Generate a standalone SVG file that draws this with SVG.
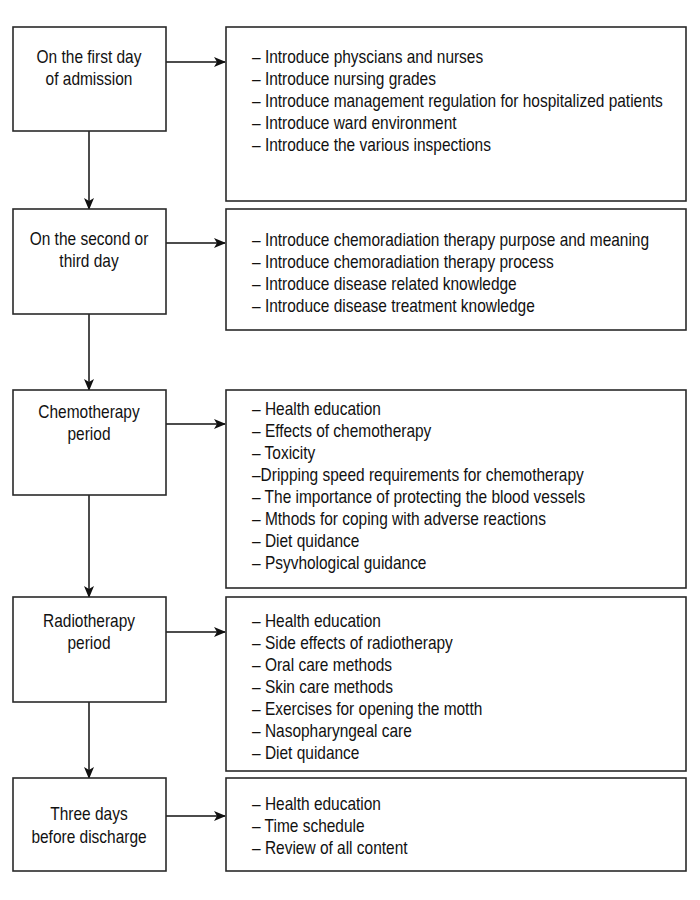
<svg xmlns="http://www.w3.org/2000/svg" width="700" height="900" viewBox="0 0 700 900">
<defs>
<marker id="ah" markerWidth="12" markerHeight="10" refX="11" refY="5" orient="auto" markerUnits="userSpaceOnUse">
<path d="M0,0 L12,5 L0,10 L3,5 Z" fill="#111"/>
</marker>
<style>
.box{fill:#fff;stroke:#2a2a2a;stroke-width:1.6}
.t{font-family:"Liberation Sans",Arial,sans-serif;font-size:18px;fill:#111}
.c{text-anchor:middle}
.con{stroke:#111;stroke-width:1.5;fill:none;marker-end:url(#ah)}
</style>
</defs>
<rect width="700" height="900" fill="#fff"/>
<g id="connectors">
<line class="con" x1="89" y1="131" x2="89" y2="209"/>
<line class="con" x1="89" y1="314" x2="89" y2="390"/>
<line class="con" x1="89" y1="495" x2="89" y2="597"/>
<line class="con" x1="89" y1="702" x2="89" y2="778"/>
<line class="con" x1="166" y1="62" x2="225" y2="62"/>
<line class="con" x1="166" y1="243" x2="225" y2="243"/>
<line class="con" x1="166" y1="424" x2="225" y2="424"/>
<line class="con" x1="166" y1="632" x2="225" y2="632"/>
<line class="con" x1="166" y1="816" x2="225" y2="816"/>
</g>
<g id="step1">
<rect class="box" x="13" y="27" width="153" height="104"/>
<g transform="translate(89 0) scale(0.86 1)"><text class="t c" x="0" y="63">On the first day</text><text class="t c" x="0" y="85">of admission</text></g>
</g>
<g id="content1">
<rect class="box" x="226" y="27" width="460" height="174"/>
<g transform="translate(252 0) scale(0.86 1)">
<text class="t" x="0" y="63">– Introduce physcians and nurses</text>
<text class="t" x="0" y="85">– Introduce nursing grades</text>
<text class="t" x="0" y="107">– Introduce management regulation for hospitalized patients</text>
<text class="t" x="0" y="129">– Introduce ward environment</text>
<text class="t" x="0" y="151">– Introduce the various inspections</text>
</g>
</g>
<g id="step2">
<rect class="box" x="13" y="209" width="153" height="105"/>
<g transform="translate(89 0) scale(0.86 1)"><text class="t c" x="0" y="245">On the second or</text><text class="t c" x="0" y="267">third day</text></g>
</g>
<g id="content2">
<rect class="box" x="226" y="209" width="460" height="121"/>
<g transform="translate(252 0) scale(0.86 1)">
<text class="t" x="0" y="246">– Introduce chemoradiation therapy purpose and meaning</text>
<text class="t" x="0" y="268">– Introduce chemoradiation therapy process</text>
<text class="t" x="0" y="290">– Introduce disease related knowledge</text>
<text class="t" x="0" y="312">– Introduce disease treatment knowledge</text>
</g>
</g>
<g id="step3">
<rect class="box" x="13" y="390" width="153" height="105"/>
<g transform="translate(89 0) scale(0.86 1)"><text class="t c" x="0" y="418">Chemotherapy</text><text class="t c" x="0" y="440">period</text></g>
</g>
<g id="content3">
<rect class="box" x="226" y="390" width="460" height="198"/>
<g transform="translate(252 0) scale(0.86 1)">
<text class="t" x="0" y="415">– Health education</text>
<text class="t" x="0" y="437">– Effects of chemotherapy</text>
<text class="t" x="0" y="459">– Toxicity</text>
<text class="t" x="0" y="481">–Dripping speed requirements for chemotherapy</text>
<text class="t" x="0" y="503">– The importance of protecting the blood vessels</text>
<text class="t" x="0" y="525">– Mthods for coping with adverse reactions</text>
<text class="t" x="0" y="547">– Diet quidance</text>
<text class="t" x="0" y="569">– Psyvhological guidance</text>
</g>
</g>
<g id="step4">
<rect class="box" x="13" y="597" width="153" height="105"/>
<g transform="translate(89 0) scale(0.86 1)"><text class="t c" x="0" y="627">Radiotherapy</text><text class="t c" x="0" y="649">period</text></g>
</g>
<g id="content4">
<rect class="box" x="226" y="597" width="460" height="174"/>
<g transform="translate(252 0) scale(0.86 1)">
<text class="t" x="0" y="627">– Health education</text>
<text class="t" x="0" y="649">– Side effects of radiotherapy</text>
<text class="t" x="0" y="671">– Oral care methods</text>
<text class="t" x="0" y="693">– Skin care methods</text>
<text class="t" x="0" y="715">– Exercises for opening the motth</text>
<text class="t" x="0" y="737">– Nasopharyngeal care</text>
<text class="t" x="0" y="759">– Diet quidance</text>
</g>
</g>
<g id="step5">
<rect class="box" x="13" y="778" width="153" height="93"/>
<g transform="translate(89 0) scale(0.86 1)"><text class="t c" x="0" y="820">Three days</text><text class="t c" x="0" y="843">before discharge</text></g>
</g>
<g id="content5">
<rect class="box" x="226" y="778" width="460" height="93"/>
<g transform="translate(252 0) scale(0.86 1)">
<text class="t" x="0" y="810">– Health education</text>
<text class="t" x="0" y="832">– Time schedule</text>
<text class="t" x="0" y="854">– Review of all content</text>
</g>
</g>
</svg>
